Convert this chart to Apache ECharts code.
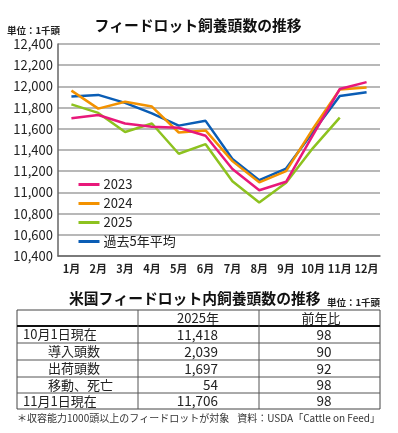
<!DOCTYPE html>
<html>
<head>
<meta charset="utf-8">
<script src="https://cdn.jsdelivr.net/npm/echarts@6/dist/echarts.min.js"></script>
<style>
html, body { margin: 0; padding: 0; background: #fff; }
#chart { width: 398px; height: 433px; }
</style>
</head>
<body>
<div id="chart"></div>
<script>
var months = ['1月', '2月', '3月', '4月', '5月', '6月', '7月', '8月', '9月', '10月', '11月', '12月']
var seriesNames = ['2023', '2024', '2025', '過去5年平均']
var data2023 = [11700, 11730, 11650, 11620, 11610, 11535, 11220, 11020, 11100, 11540, 11975, 12040]
var data2024 = [11960, 11790, 11855, 11810, 11565, 11585, 11295, 11095, 11200, 11600, 11970, 11990]
var data2025 = [11830, 11750, 11570, 11650, 11365, 11455, 11105, 10905, 11090, 11418, 11706]
var dataAvg = [11905, 11920, 11845, 11745, 11630, 11675, 11315, 11115, 11225, 11570, 11910, 11945]
var colors = ['#e8187a', '#f39200', '#8dc21f', '#0a5db5']

// table
var tableHead = ['', '2025年', '前年比']
var tableRows = ['10月1日現在', '導入頭数', '出荷頭数', '移動、死亡', '11月1日現在']
var tableValues = [11418, 2039, 1697, 54, 11706]
var tableYoy = [98, 90, 92, 98, 98]

var FONT = '"Noto Sans CJK JP", "Noto Sans", sans-serif'

var myChart = echarts.init(document.getElementById('chart'))

// build table graphics
var tLeft = 17, tRight = 380, c1 = 138, c2 = 259
var rowY = [310, 326, 343, 360, 377, 393, 409]
var g = []
g.push({type: 'rect', shape: {x: tLeft, y: rowY[0], width: tRight - tLeft, height: rowY[6] - rowY[0]},
	style: {fill: 'none', stroke: '#444', lineWidth: 1}})
for (var i = 2; i < 6; i++) {
	g.push({type: 'line', shape: {x1: tLeft, y1: rowY[i], x2: tRight, y2: rowY[i]}, style: {stroke: '#555', lineWidth: 1}})
}
g.push({type: 'line', shape: {x1: tLeft, y1: rowY[1], x2: tRight, y2: rowY[1]}, style: {stroke: '#111', lineWidth: 2}})
g.push({type: 'line', shape: {x1: c1, y1: rowY[0], x2: c1, y2: rowY[6]}, style: {stroke: '#555', lineWidth: 1}})
g.push({type: 'line', shape: {x1: c2, y1: rowY[0], x2: c2, y2: rowY[6]}, style: {stroke: '#555', lineWidth: 1}})
g.push({type: 'text', x: 198, y: (rowY[0] + rowY[1]) / 2,
	style: {text: tableHead[1], font: '13px ' + FONT, fill: '#222', align: 'center', verticalAlign: 'middle'}})
g.push({type: 'text', x: 321, y: (rowY[0] + rowY[1]) / 2,
	style: {text: tableHead[2], font: '13px ' + FONT, fill: '#222', align: 'center', verticalAlign: 'middle'}})
tableRows.forEach(function (name, i) {
	var cy = (rowY[i + 1] + rowY[i + 2]) / 2
	var indent = name.indexOf('現在') < 0
	g.push({type: 'text', x: indent ? 48 : 23, y: cy,
		style: {text: name, font: '13px ' + FONT, fill: '#222', align: 'left', verticalAlign: 'middle'}})
	g.push({type: 'text', x: 218, y: cy,
		style: {text: tableValues[i].toLocaleString('en-US'), font: '13.5px ' + FONT, fill: '#222', align: 'right', verticalAlign: 'middle'}})
	g.push({type: 'text', x: 324, y: cy,
		style: {text: String(tableYoy[i]), font: '13.5px ' + FONT, fill: '#222', align: 'center', verticalAlign: 'middle'}})
})
g.push({type: 'text', x: 69, y: 298, style: {text: '米国フィードロット内飼養頭数の推移', font: 'bold 14.8px ' + FONT, fill: '#111', verticalAlign: 'middle'}})
g.push({type: 'text', x: 380, y: 302, style: {text: '単位：1千頭', font: 'bold 9.5px ' + FONT, fill: '#222', align: 'right', verticalAlign: 'middle'}})
g.push({type: 'text', x: 17, y: 418, style: {text: '＊収容能力1000頭以上のフィードロットが対象', font: '10px ' + FONT, fill: '#333', verticalAlign: 'middle'}})
g.push({type: 'text', x: 380, y: 418, style: {text: '資料：USDA「Cattle on Feed」', font: '10px ' + FONT, fill: '#333', align: 'right', verticalAlign: 'middle'}})
g.push({type: 'text', x: 7, y: 30, style: {text: '単位：1千頭', font: 'bold 9.5px ' + FONT, fill: '#222', verticalAlign: 'middle'}})

var allData = [data2023, data2024, data2025, dataAvg]

var option = {
	animation: false,
	title: {
		text: 'フィードロット飼養頭数の推移',
		left: 193, top: 13, textAlign: 'center',
		textStyle: {fontFamily: FONT, fontSize: 14.8, fontWeight: 'bold', color: '#111'}
	},
	legend: {
		orient: 'vertical', left: 72, top: 173,
		itemWidth: 21, itemHeight: 14, itemGap: 6,
		itemStyle: {opacity: 0},
		lineStyle: {width: 3},
		textStyle: {fontFamily: FONT, fontSize: 13, color: '#222', padding: [0, 0, 0, -1]},
		data: seriesNames
	},
	grid: {left: 58, right: 18, top: 44, bottom: 177, containLabel: false},
	xAxis: {
		type: 'category', data: months, boundaryGap: true,
		axisLine: {lineStyle: {color: '#666', width: 1.5}},
		axisTick: {inside: true, length: 3, lineStyle: {color: '#666'}},
		axisLabel: {interval: 0, fontFamily: FONT, fontSize: 11, fontWeight: 'bold', color: '#222', margin: 7}
	},
	yAxis: {
		type: 'value', min: 10400, max: 12400, interval: 200,
		axisLine: {show: true, lineStyle: {color: '#666', width: 1.5}},
		splitLine: {lineStyle: {color: '#a0a0a0', width: 1.5}},
		axisLabel: {fontFamily: FONT, fontSize: 13, color: '#222', margin: 5,
			formatter: function (v) { return v.toLocaleString('en-US') }}
	},
	series: allData.map(function (d, i) {
		return {
			name: seriesNames[i], type: 'line', data: d, symbol: 'none',
			z: i == 3 ? 1 : 2 + (2 - i),
			lineStyle: {width: 2.5, color: colors[i]},
			itemStyle: {color: colors[i]}
		}
	}),
	graphic: g
}

myChart.setOption(option)
</script>
</body>
</html>
